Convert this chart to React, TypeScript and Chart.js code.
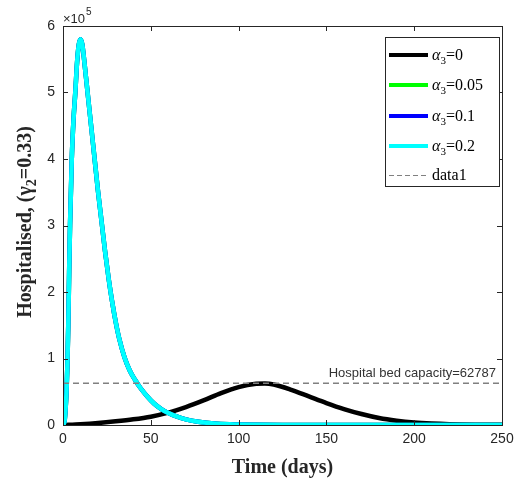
import React, { useEffect, useRef } from "react";
import { Chart, registerables } from "chart.js";

Chart.register(...registerables);

// Time (days) and hospitalised values in units of 1e5
const daysFast = [0, 0.5, 1, 1.5, 2, 2.5, 3, 3.5, 4, 5, 6, 7, 8, 9, 10, 11, 12, 13, 14, 16, 18, 20, 22, 24, 26, 28, 30, 32, 35, 38, 41, 44, 48, 52, 56, 60, 65, 70, 77, 86, 95, 110, 130, 160, 200, 250];
const alpha0_05 = [0, 0.02, 0.08, 0.25, 0.5, 0.9, 1.5, 2.3, 3.0, 4.0, 4.6, 5.0, 5.45, 5.72, 5.8, 5.72, 5.5, 5.25, 5.0, 4.5, 4.0, 3.5, 3.05, 2.6, 2.2, 1.85, 1.55, 1.3, 1.02, 0.82, 0.68, 0.56, 0.43, 0.32, 0.24, 0.18, 0.125, 0.085, 0.05, 0.022, 0.01, 0.003, 0.001, 0.0002, 0, 0];
const alpha0_1 = [0, 0.02, 0.08, 0.25, 0.5, 0.9, 1.5, 2.3, 3.0, 4.0, 4.6, 5.0, 5.45, 5.72, 5.8, 5.72, 5.5, 5.25, 5.0, 4.5, 4.0, 3.5, 3.05, 2.6, 2.2, 1.85, 1.55, 1.3, 1.02, 0.82, 0.68, 0.56, 0.43, 0.32, 0.24, 0.18, 0.125, 0.085, 0.05, 0.022, 0.01, 0.003, 0.001, 0.0002, 0, 0];
const alpha0_2 = [0, 0.02, 0.08, 0.25, 0.5, 0.9, 1.5, 2.3, 3.0, 4.0, 4.6, 5.0, 5.45, 5.72, 5.8, 5.72, 5.5, 5.25, 5.0, 4.5, 4.0, 3.5, 3.05, 2.6, 2.2, 1.85, 1.55, 1.3, 1.02, 0.82, 0.68, 0.56, 0.43, 0.32, 0.24, 0.18, 0.125, 0.085, 0.05, 0.022, 0.01, 0.003, 0.001, 0.0002, 0, 0];

const daysSlow = [0, 10, 20, 30, 40, 50, 60, 70, 80, 90, 100, 110, 115, 120, 130, 140, 150, 160, 170, 180, 190, 200, 210, 220, 235, 250];
const alpha0 = [0, 0.012, 0.03, 0.055, 0.085, 0.125, 0.185, 0.27, 0.37, 0.48, 0.57, 0.62, 0.625, 0.61, 0.53, 0.43, 0.33, 0.24, 0.165, 0.105, 0.065, 0.038, 0.022, 0.012, 0.005, 0.002];

const bedCapacity = 62787;
const capacityDays = [0, 250];

const xTicks = [0, 50, 100, 150, 200, 250];
const yTicks = [0, 1, 2, 3, 4, 5, 6];

const legendLabels = ["0", "0.05", "0.1", "0.2"];
const seriesColors = ["#000000", "#00ff00", "#0000ff", "#00ffff"];

const pts = (xs: number[], ys: number[]) => xs.map((x, i) => ({ x, y: ys[i] }));

const AX = "#262626";

const framePlugin = {
  id: "matlabFrame",
  afterDraw(chart: any) {
    const { ctx, chartArea } = chart;
    const { left, right, top, bottom } = chartArea;
    const xs = chart.scales.x;
    const ys = chart.scales.y;
    ctx.save();
    ctx.strokeStyle = AX;
    ctx.lineWidth = 1;
    ctx.strokeRect(Math.round(left) + 0.5, Math.round(top) + 0.5, Math.round(right - left), Math.round(bottom - top));
    ctx.beginPath();
    xTicks.forEach((v) => {
      const p = Math.round(xs.getPixelForValue(v)) + 0.5;
      ctx.moveTo(p, bottom); ctx.lineTo(p, bottom - 5);
      ctx.moveTo(p, top); ctx.lineTo(p, top + 5);
    });
    yTicks.forEach((v) => {
      const p = Math.round(ys.getPixelForValue(v)) + 0.5;
      ctx.moveTo(left, p); ctx.lineTo(left + 5, p);
      ctx.moveTo(right, p); ctx.lineTo(right - 5, p);
    });
    ctx.stroke();
    ctx.fillStyle = AX;
    ctx.font = "14px 'Liberation Sans', Arial, sans-serif";
    ctx.textAlign = "center";
    ctx.textBaseline = "top";
    xTicks.forEach((v) => ctx.fillText(String(v), xs.getPixelForValue(v), bottom + 7));
    ctx.textAlign = "right";
    ctx.textBaseline = "middle";
    yTicks.forEach((v) => ctx.fillText(String(v), left - 8, ys.getPixelForValue(v)));
    ctx.textAlign = "left";
    ctx.textBaseline = "alphabetic";
    ctx.font = "13px 'Liberation Sans', Arial, sans-serif";
    ctx.fillText("\u00d710", left, top - 3);
    const w10 = ctx.measureText("\u00d710").width;
    ctx.font = "10px 'Liberation Sans', Arial, sans-serif";
    ctx.fillText("5", left + w10 + 1, top - 11);

    ctx.font = "13px 'Liberation Sans', Arial, sans-serif";
    ctx.fillStyle = "#333333";
    ctx.textAlign = "right";
    ctx.fillText("Hospital bed capacity=" + bedCapacity, right - 6, ys.getPixelForValue(bedCapacity / 1e5) - 6);

    ctx.fillStyle = AX;
    ctx.font = "bold 20px 'Liberation Serif', 'Times New Roman', serif";
    ctx.textAlign = "center";
    ctx.fillText("Time (days)", (left + right) / 2, 473);

    ctx.save();
    ctx.translate(31, 222);
    ctx.rotate(-Math.PI / 2);
    const big = "bold 20px 'Liberation Serif', 'Times New Roman', serif";
    const small = "bold 14px 'Liberation Serif', 'Times New Roman', serif";
    const parts: [string, string, number][] = [
      ["Hospitalised, (\u03b3", big, 0],
      ["2", small, 5],
      ["=0.33)", big, 0],
    ];
    let total = 0;
    parts.forEach(([t, f]) => { ctx.font = f; total += ctx.measureText(t).width; });
    let x0 = -total / 2;
    ctx.textAlign = "left";
    parts.forEach(([t, f, dy]) => {
      ctx.font = f;
      ctx.fillText(t, x0, dy);
      x0 += ctx.measureText(t).width;
    });
    ctx.restore();

    const bx = 385.5, by = 37.5, bw = 114, bh = 149;
    ctx.fillStyle = "#ffffff";
    ctx.fillRect(bx, by, bw, bh);
    ctx.strokeStyle = AX;
    ctx.lineWidth = 1;
    ctx.strokeRect(bx, by, bw, bh);
    const rows = [55, 85, 116, 146, 175];
    legendLabels.forEach((lab, i) => {
      const yy = rows[i];
      ctx.strokeStyle = seriesColors[i];
      ctx.lineWidth = 4;
      ctx.beginPath();
      ctx.moveTo(389, yy); ctx.lineTo(428, yy);
      ctx.stroke();
      ctx.fillStyle = "#000";
      ctx.textAlign = "left";
      ctx.textBaseline = "alphabetic";
      let tx = 432;
      ctx.font = "italic 16px 'Liberation Serif', 'Times New Roman', serif";
      ctx.fillText("\u03b1", tx, yy + 5);
      tx += ctx.measureText("\u03b1").width;
      ctx.font = "11px 'Liberation Serif', 'Times New Roman', serif";
      ctx.fillText("3", tx, yy + 9);
      tx += ctx.measureText("3").width;
      ctx.font = "16px 'Liberation Serif', 'Times New Roman', serif";
      ctx.fillText("=" + lab, tx, yy + 5);
    });
    const yd = rows[4];
    ctx.strokeStyle = "#808080";
    ctx.lineWidth = 1;
    ctx.setLineDash([5, 3]);
    ctx.beginPath();
    ctx.moveTo(389, yd + 0.5); ctx.lineTo(428, yd + 0.5);
    ctx.stroke();
    ctx.setLineDash([]);
    ctx.fillStyle = "#000";
    ctx.font = "16px 'Liberation Serif', 'Times New Roman', serif";
    ctx.fillText("data1", 432, yd + 5);
    ctx.restore();
  },
};

export default function App() {
  const ref = useRef<HTMLCanvasElement | null>(null);
  useEffect(() => {
    if (!ref.current) return;
    const common = {
      fill: false,
      pointRadius: 0,
      borderWidth: 4.5,
      cubicInterpolationMode: "monotone" as const,
      borderJoinStyle: "round" as const,
      borderCapStyle: "round" as const,
    };
    const chart = new Chart(ref.current, {
      type: "line",
      data: {
        datasets: [
          { label: "data1", data: pts(capacityDays, capacityDays.map(() => bedCapacity / 1e5)), borderColor: "#808080", borderWidth: 1.3, borderDash: [6, 4], pointRadius: 0, fill: false, order: 0 },
          { label: "a3=0.2", data: pts(daysFast, alpha0_2), borderColor: seriesColors[3], order: 1, ...common },
          { label: "a3=0.1", data: pts(daysFast, alpha0_1), borderColor: seriesColors[2], order: 2, ...common },
          { label: "a3=0.05", data: pts(daysFast, alpha0_05), borderColor: seriesColors[1], order: 3, ...common },
          { label: "a3=0", data: pts(daysSlow, alpha0), borderColor: seriesColors[0], order: 4, ...common },
        ],
      },
      options: {
        responsive: false,
        animation: false,
        devicePixelRatio: 1,
        layout: { padding: { left: 63, right: 17, top: 26, bottom: 55 } },
        scales: {
          x: { type: "linear", min: 0, max: 250, display: false },
          y: { type: "linear", min: 0, max: 6, display: false },
        },
        plugins: { legend: { display: false }, tooltip: { enabled: false } },
      },
      plugins: [framePlugin],
    });
    return () => chart.destroy();
  }, []);
  return (
    <div style={{ position: "fixed", left: 0, top: 0, width: 519, height: 480, background: "#fff" }}>
      <canvas ref={ref} width={519} height={480} />
    </div>
  );
}
